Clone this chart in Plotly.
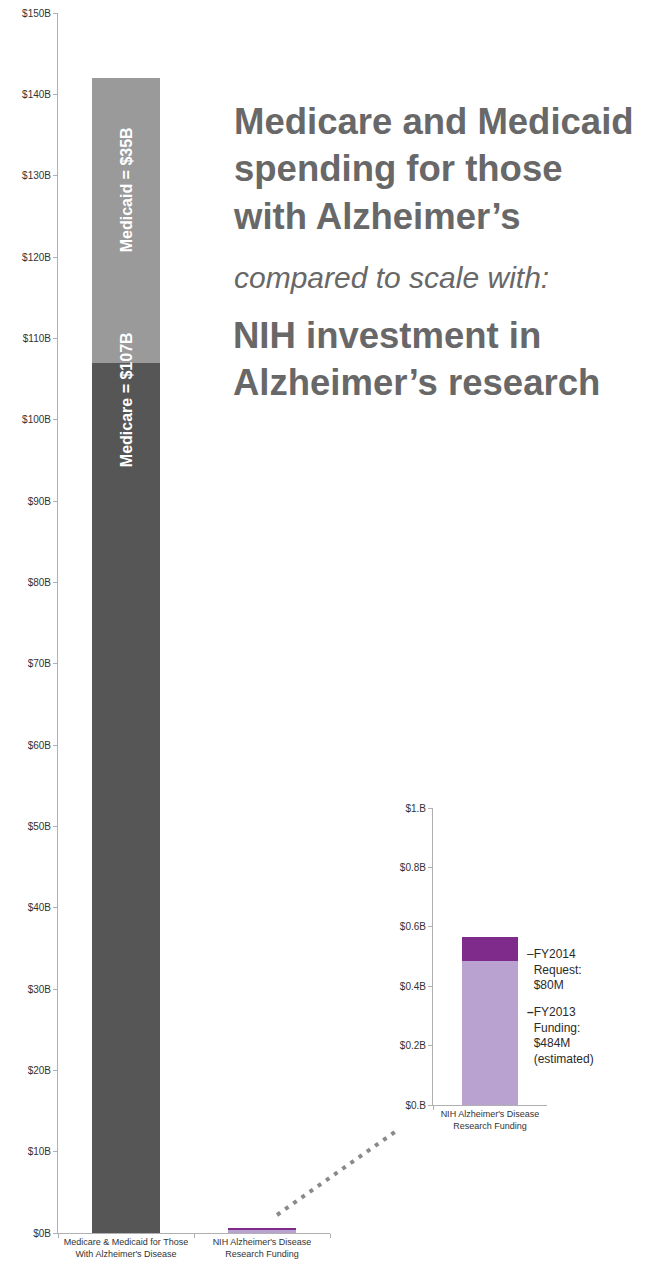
import plotly.graph_objects as go

# The page body adds an 8px margin, so the figure is sized and placed to compensate.
OFF = 8
W, H = 654 - OFF, 1269 - OFF

# ---- data ----
main_categories = ["Medicare & Medicaid for Those<br>With Alzheimer's Disease",
                   "NIH Alzheimer's Disease<br>Research Funding"]
medicare_b = [107, 0]
medicaid_b = [35, 0]
nih_fy2013_b = [0, 0.484]
nih_fy2014_b = [0, 0.080]

inset_categories = ["NIH Alzheimer's Disease<br>Research Funding"]
inset_fy2013_b = [0.484]
inset_fy2014_b = [0.080]

main_tick_vals = [0, 10, 20, 30, 40, 50, 60, 70, 80, 90, 100, 110, 120, 130, 140, 150]
main_tick_text = ["$0B", "$10B", "$20B", "$30B", "$40B", "$50B", "$60B", "$70B", "$80B",
                  "$90B", "$100B", "$110B", "$120B", "$130B", "$140B", "$150B"]
inset_tick_vals = [0, 0.2, 0.4, 0.6, 0.8, 1.0]
inset_tick_text = ["$0.B", "$0.2B", "$0.4B", "$0.6B", "$0.8B", "$1.B"]

# ---- colours ----
C_MEDICARE = "#565656"
C_MEDICAID = "#9a9a9a"
C_FY2013 = "#b9a2cf"
C_FY2014 = "#7e2b8c"
C_AXIS = "#b0b0b0"
C_TICK = "#333333"
C_TITLE = "#686868"

def px_x(p):
    return (p - OFF) / W

def px_y(p):
    return (H - (p - OFF)) / H

fig = go.Figure()

bw = 0.5
fig.add_trace(go.Bar(x=main_categories, y=medicare_b, marker_color=C_MEDICARE, width=bw,
                     xaxis="x", yaxis="y", name="Medicare", marker_line_width=0))
fig.add_trace(go.Bar(x=main_categories, y=medicaid_b, marker_color=C_MEDICAID, width=bw,
                     xaxis="x", yaxis="y", name="Medicaid", marker_line_width=0))
fig.add_trace(go.Bar(x=main_categories, y=nih_fy2013_b, marker_color=C_FY2013, width=bw,
                     xaxis="x", yaxis="y", name="FY2013", marker_line_width=0))
fig.add_trace(go.Bar(x=main_categories, y=nih_fy2014_b, marker_color=C_FY2014, width=bw,
                     xaxis="x", yaxis="y", name="FY2014", marker_line_width=0))

fig.add_trace(go.Bar(x=inset_categories, y=inset_fy2013_b, marker_color=C_FY2013, width=0.49,
                     xaxis="x2", yaxis="y2", name="FY2013 inset", marker_line_width=0))
fig.add_trace(go.Bar(x=inset_categories, y=inset_fy2014_b, marker_color=C_FY2014, width=0.49,
                     xaxis="x2", yaxis="y2", name="FY2014 inset", marker_line_width=0))

tick_font = dict(family="Liberation Sans, Arial, sans-serif", size=10, color=C_TICK)
cat_font = dict(family="Liberation Sans, Arial, sans-serif", size=9, color=C_TICK)

axis_common = dict(showgrid=False, zeroline=False, showline=True, linecolor=C_AXIS, linewidth=1,
                   ticks="outside", ticklen=4, tickcolor=C_AXIS, fixedrange=True,
                   automargin=False, ticklabeloverflow="allow")

fig.update_layout(
    width=W, height=H,
    margin=dict(l=0, r=0, t=0, b=0),
    paper_bgcolor="white", plot_bgcolor="white",
    barmode="stack", showlegend=False,
    xaxis=dict(domain=[px_x(58), px_x(330)], range=[-0.5, 1.5], tickson="boundaries",
               tickfont=cat_font, tickangle=0, anchor="y", **axis_common),
    yaxis=dict(domain=[px_y(1233), px_y(13)], range=[0, 150], tickvals=main_tick_vals,
               ticktext=main_tick_text, tickfont=tick_font, anchor="x", **axis_common),
    xaxis2=dict(domain=[px_x(433), px_x(547)], range=[-0.5, 0.5], tickson="boundaries",
                tickfont=cat_font, tickangle=0, anchor="y2", **axis_common),
    yaxis2=dict(domain=[px_y(1105), px_y(808)], range=[0, 1.0], tickvals=inset_tick_vals,
                ticktext=inset_tick_text, tickfont=tick_font, anchor="x2", **axis_common),
)

ann = []
title_font = dict(family="Liberation Sans, Arial, sans-serif", size=36.5, color=C_TITLE)
ann.append(dict(text="<b>Medicare and Medicaid<br>spending for those<br>with Alzheimer’s</b>",
                xref="paper", yref="paper", x=px_x(231), y=px_y(169), xanchor="left", yanchor="middle",
                align="left", showarrow=False, font=title_font))
ann.append(dict(text="<i>compared to scale with:</i>",
                xref="paper", yref="paper", x=px_x(232), y=px_y(277), xanchor="left", yanchor="middle",
                align="left", showarrow=False,
                font=dict(family="Liberation Sans, Arial, sans-serif", size=30, color=C_TITLE)))
ann.append(dict(text="<b>NIH investment in<br>Alzheimer’s research</b>",
                xref="paper", yref="paper", x=px_x(231), y=px_y(359), xanchor="left", yanchor="middle",
                align="left", showarrow=False, font=title_font))

bar_font = dict(family="Liberation Sans, Arial, sans-serif", size=16, color="white")
ann.append(dict(text="<b>Medicaid = $35B</b>", xref="x", yref="y", x=main_categories[0],
                y=128.2, textangle=-90, showarrow=False, font=bar_font))
ann.append(dict(text="<b>Medicare = $107B</b>", xref="x", yref="y", x=main_categories[0],
                y=102.4, textangle=-90, showarrow=False, font=bar_font))

side_font = dict(family="Liberation Sans, Arial, sans-serif", size=12, color="#2a2a2a")
ann.append(dict(text="–FY2014<br>&nbsp;&nbsp;Request:<br>&nbsp;&nbsp;$80M",
                xref="paper", yref="paper", x=px_x(525), y=px_y(970), xanchor="left",
                yanchor="middle", align="left", showarrow=False, font=side_font))
ann.append(dict(text="<b>–</b>FY2013<br>&nbsp;&nbsp;Funding:<br>&nbsp;&nbsp;$484M<br>&nbsp;&nbsp;(estimated)",
                xref="paper", yref="paper", x=px_x(525), y=px_y(1035), xanchor="left",
                yanchor="middle", align="left", showarrow=False, font=side_font))

fig.update_layout(annotations=ann)

# dotted connector from the tiny NIH bar to the inset
fig.add_shape(type="line", xref="paper", yref="paper",
              x0=px_x(277), y0=px_y(1215), x1=px_x(399), y1=px_y(1129),
              line=dict(color="#8a8a8a", width=4, dash="4px,6px"))

fig.write_html("out.html")
